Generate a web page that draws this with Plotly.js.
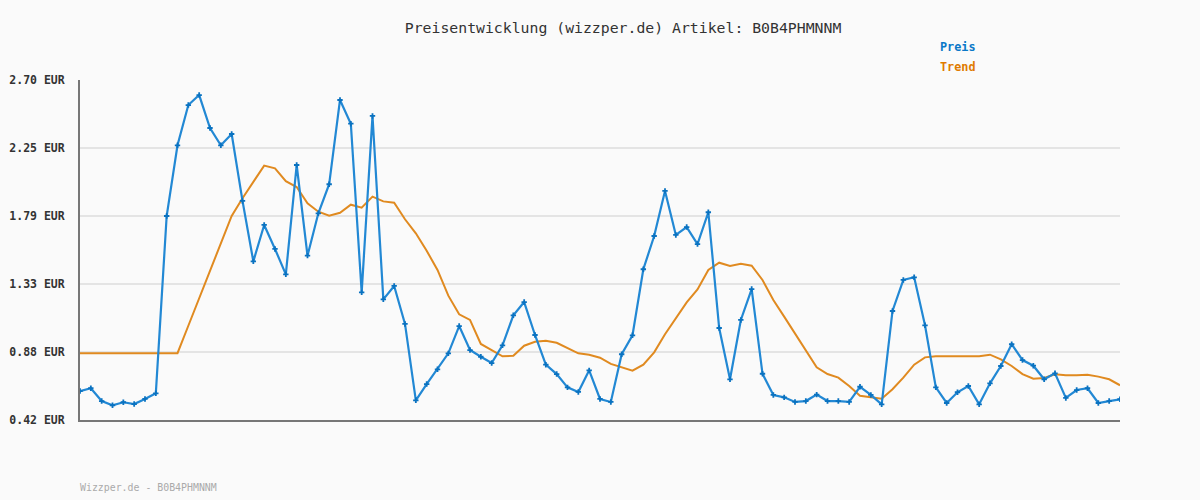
<!DOCTYPE html>
<html>
<head>
<meta charset="utf-8">
<script src="https://cdn.plot.ly/plotly-3.0.1.min.js"></script>
<style>
html,body{margin:0;padding:0;background:#fafafa;}
#chart{width:1200px;height:500px;}
</style>
</head>
<body>
<div id="chart"></div>
<script>
const preis = [0.614,0.633,0.547,0.519,0.539,0.527,0.561,0.599,1.788,2.262,
2.532,2.599,2.378,2.262,2.338,1.889,1.484,1.728,1.567,1.397,
2.130,1.522,1.806,2.001,2.566,2.407,1.276,2.459,1.229,1.319,
1.064,0.552,0.661,0.760,0.867,1.050,0.889,0.844,0.802,0.921,
1.122,1.211,0.990,0.791,0.728,0.639,0.608,0.753,0.561,0.541,
0.861,0.988,1.431,1.654,1.956,1.661,1.714,1.600,1.813,1.037,
0.693,1.091,1.298,0.730,0.588,0.572,0.541,0.547,0.590,0.547,
0.547,0.541,0.643,0.588,0.525,1.151,1.359,1.377,1.055,0.639,
0.534,0.606,0.648,0.525,0.666,0.782,0.928,0.822,0.784,0.693,
0.733,0.568,0.621,0.633,0.534,0.547,0.559];
const trend = [0.868,0.868,0.868,0.868,0.868,0.868,0.868,0.868,0.868,0.868,
1.052,1.236,1.420,1.604,1.788,1.907,2.018,2.126,2.108,2.021,
1.982,1.873,1.817,1.790,1.810,1.864,1.844,1.918,1.886,1.877,
1.766,1.672,1.555,1.426,1.254,1.129,1.091,0.930,0.889,0.847,
0.851,0.918,0.945,0.952,0.938,0.901,0.867,0.858,0.838,0.796,
0.771,0.751,0.791,0.874,0.995,1.102,1.209,1.296,1.426,1.475,
1.453,1.468,1.455,1.359,1.225,1.113,1.001,0.894,0.773,0.728,
0.704,0.648,0.583,0.572,0.563,0.626,0.704,0.791,0.840,0.847,
0.847,0.851,0.851,0.847,0.858,0.827,0.782,0.728,0.697,0.702,
0.726,0.720,0.720,0.724,0.711,0.693,0.653];
const tickVals = [0.42,0.876,1.332,1.788,2.244,2.70];
const tickText = ["0.42 EUR","0.88 EUR","1.33 EUR","1.79 EUR","2.25 EUR","2.70 EUR"];
const x = preis.map((_, i) => i);

const mono = "DejaVu Sans Mono, monospace";
const data = [
  {x: x, y: trend, type: "scatter", mode: "lines", name: "Trend",
   line: {color: "#e08a20", width: 2}, hoverinfo: "skip"},
  {x: x, y: preis, type: "scatter", mode: "lines+markers", name: "Preis",
   line: {color: "#2288d4", width: 2.2},
   marker: {symbol: "cross", size: 4.5, color: "#0a72c0"}}
];
const layout = {
  width: 1200, height: 500,
  paper_bgcolor: "#fafafa", plot_bgcolor: "#fafafa",
  margin: {l: 80, r: 80, t: 80, b: 80},
  showlegend: false,
  title: {text: "Preisentwicklung (wizzper.de) Artikel: B0B4PHMNNM",
          font: {family: mono, size: 14.8, color: "#333"},
          x: 0.5192, xanchor: "center", y: 0.944, yanchor: "middle"},
  xaxis: {range: [0, 96], showgrid: false, zeroline: false, showticklabels: false,
          showline: true, linecolor: "#777", linewidth: 2, ticks: "", fixedrange: true},
  yaxis: {range: [0.42, 2.70], tickvals: tickVals, ticktext: tickText,
          showgrid: true, gridcolor: "#e4e4e4", gridwidth: 2, zeroline: false,
          showline: true, linecolor: "#777", linewidth: 2, ticks: "",
          ticklabelstandoff: 11,
          tickfont: {family: mono, size: 11.5, color: "#333", weight: "bold"}},
  annotations: [
    {text: "<b>Preis</b>", xref: "paper", yref: "paper", x: (938-80)/1040, y: (420-47)/340,
     xanchor: "left", yanchor: "middle", showarrow: false,
     font: {family: mono, size: 11.8, color: "#0a78c8"}},
    {text: "<b>Trend</b>", xref: "paper", yref: "paper", x: (938-80)/1040, y: (420-67)/340,
     xanchor: "left", yanchor: "middle", showarrow: false,
     font: {family: mono, size: 11.8, color: "#e07b00"}},
    {text: "Wizzper.de - B0B4PHMNNM", xref: "paper", yref: "paper", x: -2/1040, y: (420-487)/340,
     xanchor: "left", yanchor: "middle", showarrow: false,
     font: {family: mono, size: 9.9, color: "#aaa"}}
  ]
};
Plotly.newPlot("chart", data, layout, {displayModeBar: false, staticPlot: true});
</script>
</body>
</html>
